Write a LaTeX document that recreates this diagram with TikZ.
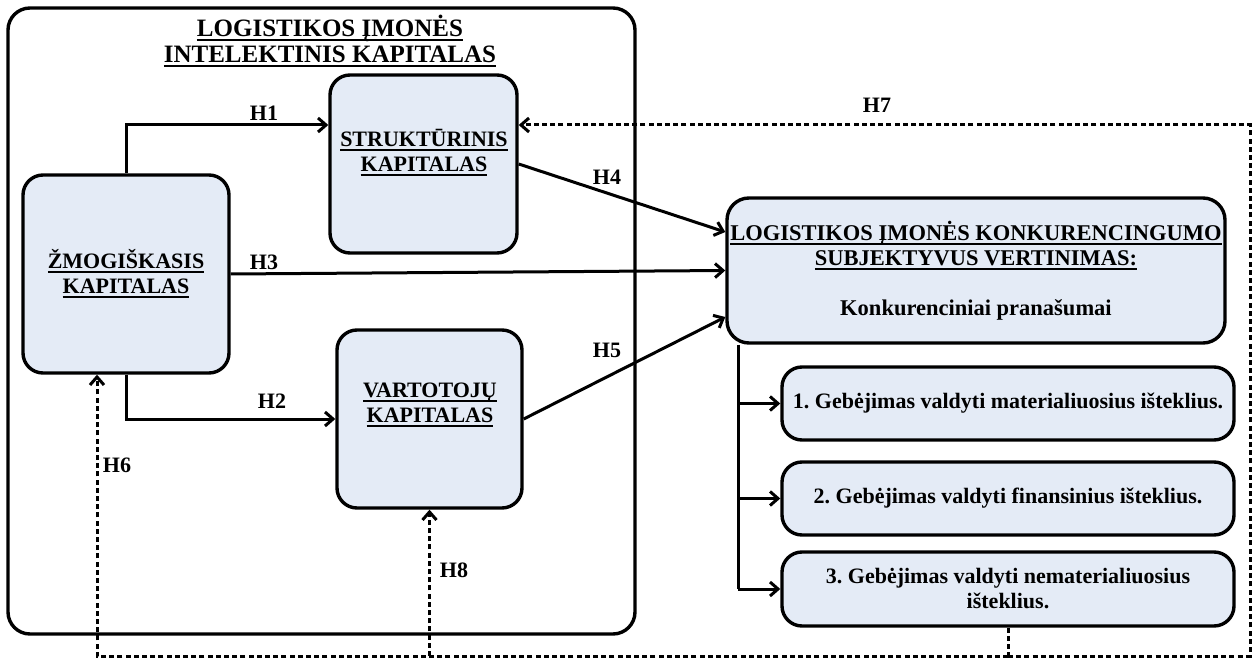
\documentclass[tikz,border=0pt]{standalone}
\usepackage{fontspec}
\setmainfont{Liberation Serif}
\usetikzlibrary{arrows.meta}
\definecolor{boxfill}{RGB}{228,235,246}
% underline with a fixed offset below the baseline
\newsavebox{\ulbox}
\newcommand{\uln}[1]{\sbox{\ulbox}{#1}\leavevmode\rlap{\vrule height -2.6pt depth 4.6pt width \wd\ulbox}\usebox{\ulbox}}
\frenchspacing
\begin{document}
\begin{tikzpicture}[x=1pt,y=-1pt,
  font=\bfseries\fontsize{22}{25}\selectfont,
  frame/.style={draw,line width=3.4pt,rounded corners=22pt,inner sep=0pt},
  card/.style={draw,line width=3.4pt,fill=boxfill,rounded corners=20pt,inner sep=2pt},
  tip/.style={-{Straight Barb[length=8pt,width=14pt]}},
  link/.style={line width=3pt,tip},
  plain/.style={line width=3pt},
  dline/.style={line width=3pt,dash pattern=on 5pt off 3.2pt},
  tag/.style={inner sep=0pt},
]
\useasboundingbox (0,0) rectangle (1256,660);

% helper positions for bends and connector heights
\coordinate (yh1) at (0,125);
\coordinate (ybot) at (0,656);
\coordinate (xr) at (1250,0);
\coordinate (x6) at (97,0);
\coordinate (y4) at (0,232);
\coordinate (y5) at (0,317);
\coordinate (xt) at (738,0);

% intellectual capital frame and its title
\node[frame, minimum width=627pt, minimum height=626pt] (ic) at (321.5,321) {};
\node[tag, align=center, font=\bfseries\fontsize{25}{26}\selectfont] (ttl) at (330,41)
  {\uln{LOGISTIKOS ĮMONĖS}\\\uln{INTELEKTINIS KAPITALAS}};

% capital components
\node[card, minimum width=187pt, minimum height=178pt] (stru) at (423.5,164) {};
\node[tag, align=center] (strut) at (424,153) {\uln{STRUKTŪRINIS}\\\uln{KAPITALAS}};
\node[card, minimum width=206pt, minimum height=198pt, align=center] (zmog) at (126,274) {\uln{ŽMOGIŠKASIS}\\\uln{KAPITALAS}};
\node[card, minimum width=185pt, minimum height=178pt] (vart) at (429.5,419) {};
\node[tag, align=center] (vartt) at (430,405) {\uln{VARTOTOJŲ}\\\uln{KAPITALAS}};

% competitiveness assessment
\node[card, rounded corners=22pt, minimum width=498pt, minimum height=145pt, align=center,
      font=\bfseries\fontsize{22.5}{25}\selectfont] (konk) at (976,270.5)
  {\uln{LOGISTIKOS ĮMONĖS KONKURENCINGUMO}\\\uln{SUBJEKTYVUS VERTINIMAS:}\\[25pt]Konkurenciniai pranašumai};
\node[card, minimum width=452pt, minimum height=73pt, align=center] (b1) at (1008,403.5)
  {1. Gebėjimas valdyti materialiuosius išteklius.};
\node[card, minimum width=452pt, minimum height=73pt, align=center] (b2) at (1008,498.5)
  {2. Gebėjimas valdyti finansinius išteklius.};
\node[card, minimum width=452pt, minimum height=74pt, align=center] (b3) at (1008,589)
  {3. Gebėjimas valdyti nematerialiuosius\\išteklius.};

% hypotheses H1--H5
\draw[link] (zmog.north) |- (stru.west |- yh1);
\draw[link] (zmog.south) |- (vart.west);
\draw[link] (zmog.east) -- (konk.west);
\draw[link] (stru.east) -- (konk.west |- y4);
\draw[link] (vart.east) -- (konk.west |- y5);

% list of advantages
\draw[plain] (konk.south -| xt) -- (xt |- b3.west);
\draw[link] (xt |- b1.west) -- (b1.west);
\draw[link] (xt |- b2.west) -- (b2.west);
\draw[link] (xt |- b3.west) -- (b3.west);

% feedback hypotheses H6--H8
\draw[dline] (b3.south) -- (b3.south |- ybot);
\draw[dline,tip] (b3.south |- ybot) -| (xr |- yh1) -- (stru.east |- yh1);
\draw[dline,tip] (b3.south |- ybot) -| (x6 |- zmog.south);
\draw[dline,tip] (vart.south |- ybot) -- (vart.south);

% hypothesis labels
\node[tag] (h1) at (264,113) {H1};
\node[tag] (h2) at (272,401) {H2};
\node[tag] (h3) at (264,262) {H3};
\node[tag] (h4) at (607,177) {H4};
\node[tag] (h5) at (607,350) {H5};
\node[tag] (h6) at (117,465) {H6};
\node[tag] (h7) at (877,105) {H7};
\node[tag] (h8) at (454,570) {H8};
\end{tikzpicture}
\end{document}
